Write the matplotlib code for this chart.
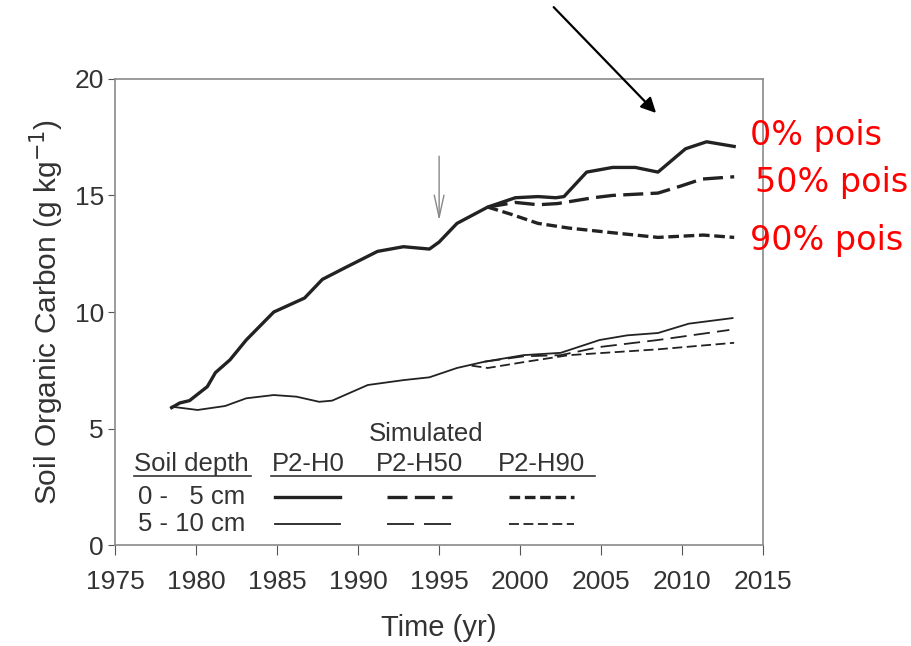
import numpy as np
import matplotlib
matplotlib.use("Agg")
import matplotlib.pyplot as plt

plt.rcParams["font.family"] = ["Liberation Sans", "DejaVu Sans"]

# ── data ─────────────────────────────────────────────────────────────────
# 0-5 cm, P2-H0 (thick solid)
yr_top = [1978.5, 1979.0, 1979.6, 1980.7, 1981.2, 1982.1, 1983.1, 1984.8, 1986.7,
          1987.8, 1989.2, 1991.2, 1992.8, 1994.4, 1995.0, 1996.1, 1998.0, 1999.7,
          2001.1, 2002.2, 2002.7, 2004.1, 2005.7, 2007.1, 2008.5, 2010.2, 2011.5,
          2013.2]
soc_top_h0 = [5.9, 6.1, 6.2, 6.8, 7.4, 7.95, 8.8, 10.0, 10.6,
              11.4, 11.9, 12.6, 12.8, 12.7, 13.0, 13.8, 14.5, 14.9,
              14.95, 14.9, 14.95, 16.0, 16.2, 16.2, 16.0, 17.0, 17.3,
              17.1]
# 0-5 cm, P2-H50 / P2-H90 (thick dashed, after divergence)
yr_top_h50 = [1998.0, 1999.7, 2001.1, 2002.3, 2004.5, 2005.7, 2008.5, 2009.9, 2011.2, 2013.2]
soc_top_h50 = [14.5, 14.7, 14.6, 14.65, 14.9, 15.0, 15.1, 15.4, 15.7, 15.8]
yr_top_h90 = [1998.0, 1999.4, 2001.1, 2003.0, 2005.7, 2008.5, 2011.3, 2013.2]
soc_top_h90 = [14.5, 14.2, 13.8, 13.6, 13.4, 13.2, 13.3, 13.2]

# 5-10 cm, P2-H0 (thin solid)
yr_sub = [1978.5, 1980.1, 1981.8, 1983.1, 1984.8, 1986.2, 1987.6, 1988.4, 1990.6,
          1992.8, 1994.4, 1996.1, 1997.8, 2000.2, 2002.5, 2004.9, 2006.6, 2008.5,
          2010.4, 2013.1]
soc_sub_h0 = [5.94, 5.8, 5.97, 6.3, 6.44, 6.37, 6.15, 6.2, 6.87,
              7.08, 7.2, 7.6, 7.87, 8.15, 8.25, 8.8, 9.0, 9.1,
              9.5, 9.74]
yr_sub_h50 = [1997.8, 2000.2, 2002.5, 2004.9, 2008.5, 2012.9]
soc_sub_h50 = [7.87, 8.1, 8.15, 8.5, 8.8, 9.23]
yr_sub_h90 = [1997.0, 1998.0, 2000.2, 2003.0, 2008.5, 2013.2]
soc_sub_h90 = [7.7, 7.6, 7.85, 8.15, 8.4, 8.68]

scenarios = ["P2-H0", "P2-H50", "P2-H90"]
depths = ["0 -   5 cm", "5 - 10 cm"]
pois_labels = ["0% pois", "50% pois", "90% pois"]

# ── styles ──────────────────────────────────────────────────────────────
INK = "#222222"
THICK, THIN = 2.4, 1.3
# dash patterns scale with lw in matplotlib, so keep one set per width
DASH_THICK = {"P2-H0": "-", "P2-H50": (0, (6, 2.2)), "P2-H90": (0, (3.2, 1.4))}
DASH_THIN = {"P2-H0": "-", "P2-H50": (0, (15, 5.5)), "P2-H90": (0, (5.5, 2.5))}

fig = plt.figure(figsize=(9.12, 6.46), dpi=100, facecolor="white")
ax = fig.add_axes([0.126, 0.156, 0.711, 0.722])

ax.plot(yr_top, soc_top_h0, color=INK, lw=THICK, ls=DASH_THICK["P2-H0"])
ax.plot(yr_top_h50, soc_top_h50, color=INK, lw=THICK, ls=DASH_THICK["P2-H50"])
ax.plot(yr_top_h90, soc_top_h90, color=INK, lw=THICK, ls=DASH_THICK["P2-H90"])
ax.plot(yr_sub, soc_sub_h0, color=INK, lw=THIN, ls=DASH_THIN["P2-H0"])
ax.plot(yr_sub_h50, soc_sub_h50, color=INK, lw=THIN, ls=(0, (9, 4)))
ax.plot(yr_sub_h90, soc_sub_h90, color=INK, lw=THIN, ls=DASH_THIN["P2-H90"])

ax.set_xlim(1975, 2015)
ax.set_ylim(0, 20)
ax.set_xticks(np.arange(1975, 2016, 5))
ax.set_yticks(np.arange(0, 21, 5))
for s in ax.spines.values():
    s.set_color("#8a8a8a"); s.set_linewidth(1.2)
ax.tick_params(direction="out", color="#555555", labelsize=19, labelcolor="#333333")
ax.tick_params(axis="x", length=7, pad=11)
ax.tick_params(axis="y", length=5, pad=3)
ax.set_xlabel("Time (yr)", fontsize=21, color="#333333", labelpad=14)
ax.set_ylabel("Soil Organic Carbon (g kg$^{-1}$)", fontsize=21.5, color="#333333", labelpad=6)

# management change marker (open grey arrow)
ax.annotate("", xy=(1995.0, 13.8), xytext=(1995.0, 16.8),
            arrowprops=dict(arrowstyle="->,head_length=1.6,head_width=0.35",
                            color="#888888", lw=1.0))

# ── legend table ────────────────────────────────────────────────────────
txt = dict(fontsize=18.5, color="#333333")
ax.text(1994.2, 4.76, "Simulated", ha="center", va="center", **txt)
ax.text(1976.2, 3.5, "Soil depth", ha="left", va="center", **txt)
col_x = [1986.9, 1993.8, 2001.3]
for cx, name in zip(col_x, scenarios):
    ax.text(cx, 3.5, name, ha="center", va="center", **txt)
ax.plot([1976.2, 1983.4], [2.95, 2.95], color="#333333", lw=1.2)
ax.plot([1984.6, 2004.6], [2.95, 2.95], color="#333333", lw=1.2)
row_y = [2.06, 0.9]
for ry, dname, lw, dashes in zip(row_y, depths, [THICK, THIN], [DASH_THICK, DASH_THIN]):
    ax.text(1976.4, ry, dname, ha="left", va="center", **txt)
    for cx, name in zip(col_x, scenarios):
        ax.plot([cx - 2.0, cx + 2.0], [ry, ry], color=INK, lw=lw, ls=dashes[name])

# ── annotations outside the axes ───────────────────────────────────────
ax.annotate("", xy=(0.7215, 0.822), xytext=(0.605, 0.992),
            xycoords="figure fraction", textcoords="figure fraction",
            arrowprops=dict(arrowstyle="-|>,head_length=0.9,head_width=0.45",
                            color="black", lw=1.6))
red_pos = [(0.822, 0.791), (0.828, 0.718), (0.822, 0.628)]
for (fx, fy), lab in zip(red_pos, pois_labels):
    fig.text(fx, fy, lab, color="red", fontsize=24, ha="left", va="center",
             family=["DejaVu Sans"])

fig.savefig("out.png", dpi=100)
